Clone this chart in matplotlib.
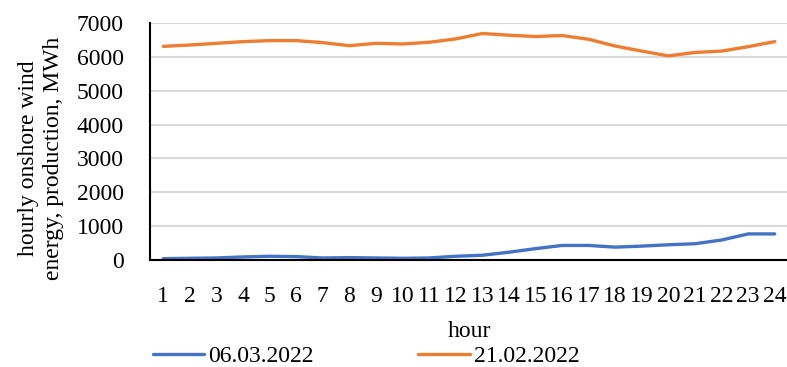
import matplotlib
matplotlib.use("Agg")
import matplotlib.pyplot as plt

hours = list(range(1, 25))
s_0603 = [40, 50, 60, 90, 110, 100, 60, 70, 60, 50, 60, 110, 140, 230, 335, 430, 430, 380, 410, 450, 480, 590, 770, 770]
s_2102 = [6310, 6350, 6400, 6450, 6480, 6480, 6420, 6330, 6400, 6380, 6430, 6530, 6690, 6640, 6600, 6630, 6520, 6320, 6170, 6030, 6130, 6170, 6300, 6450]
labels = ["06.03.2022", "21.02.2022"]
colors = ["#4472C4", "#ED7D31"]
yticks = [0, 1000, 2000, 3000, 4000, 5000, 6000, 7000]

plt.rcParams['font.family'] = ['Liberation Serif', 'DejaVu Serif']
FS = 17

fig = plt.figure(figsize=(7.87, 3.67), dpi=100)
ax = fig.add_axes([150/787, 1 - 260/367, 638/787, 237/367])

ax.plot(hours, s_0603, color=colors[0], lw=2.4, label=labels[0], solid_capstyle='round')
ax.plot(hours, s_2102, color=colors[1], lw=2.4, label=labels[1], solid_capstyle='round')

ax.set_xlim(0.5, 24.5)
ax.set_ylim(0, 7000)
ax.set_yticks(yticks)
ax.set_xticks(hours)
ax.set_xticklabels([str(h) for h in hours])
ax.tick_params(axis='both', length=0, labelsize=FS)
ax.tick_params(axis='x', pad=19)
ax.tick_params(axis='y', pad=19)
ax.grid(axis='y', color='#D9D9D9', lw=1.5)
ax.set_axisbelow(True)
for s in ['top', 'right']:
    ax.spines[s].set_visible(False)
ax.spines['left'].set_linewidth(1.5)
ax.spines['bottom'].set_linewidth(1.5)

ax.set_xlabel("hour", fontsize=FS, labelpad=10)
fig.text(41/787, 1 - 158/367, "hourly onshore wind\nenergy, production, MWh", rotation=90,
         ha='center', va='center', fontsize=FS, linespacing=1.2)

fig.legend(loc='center', bbox_to_anchor=(366/787, 1 - 356/367), ncol=2, frameon=False,
           fontsize=FS, handlelength=2.2, columnspacing=4.4, handletextpad=0.17,
           borderpad=0)

fig.savefig("out.png", dpi=100)
